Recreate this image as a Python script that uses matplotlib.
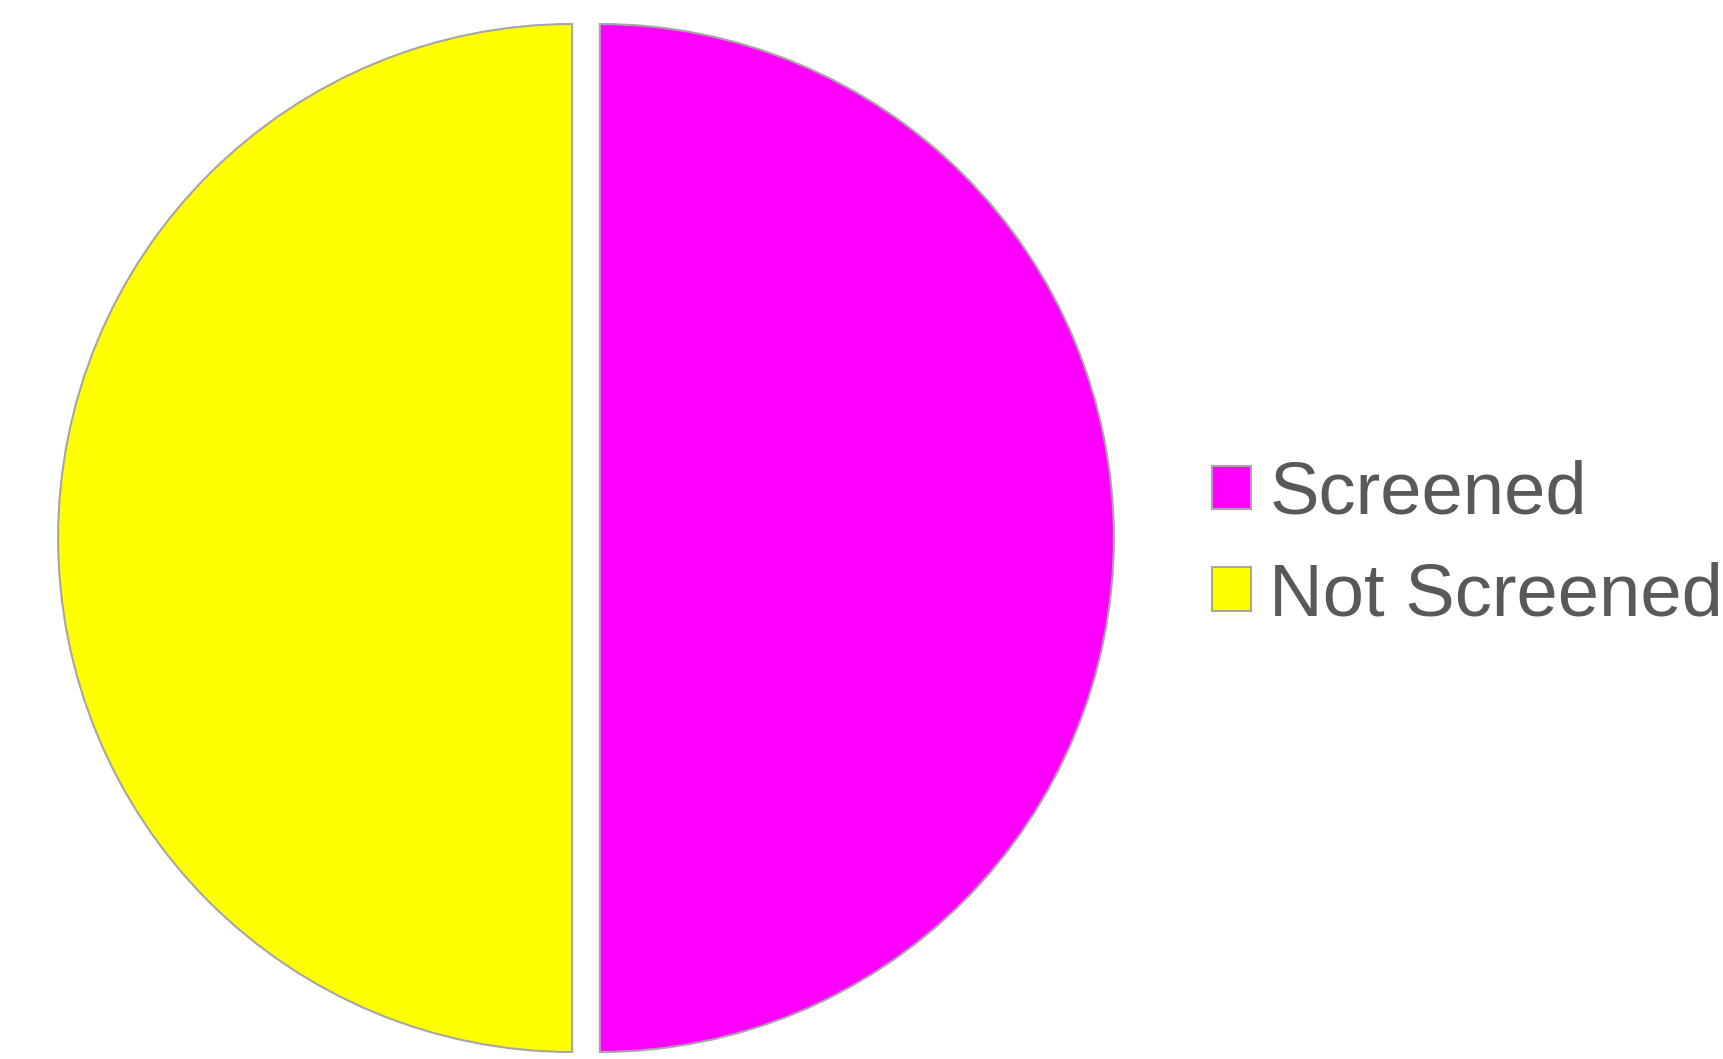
import matplotlib
matplotlib.use('Agg')
import matplotlib.pyplot as plt

# 数据
labels = ['Screened', 'Not Screened']
values = [50, 50]
colors = ['#ff00ff', '#ffff00']

plt.rcParams['font.family'] = ['Liberation Sans', 'DejaVu Sans']

fig = plt.figure(figsize=(17.23, 10.59), dpi=100)
W, H = 1723, 1059
R = 514            # 饼图半径(像素)
cx, cy = 586, 521  # 中心(像素, 从下往上)
lim = 1.05
side = 2 * lim * R
ax = fig.add_axes([(cx - side / 2) / W, (cy - side / 2) / H, side / W, side / H])

wedges, _ = ax.pie(values, colors=colors, startangle=90, counterclock=False,
                   explode=[0.027, 0.027],
                   wedgeprops=dict(edgecolor='#a6a6a6', linewidth=1.5))
ax.set_xlim(-lim, lim)
ax.set_ylim(-lim, lim)
ax.set_aspect('equal')
ax.axis('off')

leg = fig.legend(wedges, labels, loc='center left',
                 bbox_to_anchor=(1212 / W, 1 - 545 / H),
                 frameon=False, fontsize=53.5, labelcolor='#595959',
                 handlelength=0.52, handleheight=0.52, handletextpad=0.25,
                 labelspacing=0.44, borderaxespad=0, borderpad=0)
for h in leg.legend_handles:
    h.set_edgecolor('#a6a6a6')
    h.set_linewidth(1.5)

fig.savefig('out.png', dpi=100)
